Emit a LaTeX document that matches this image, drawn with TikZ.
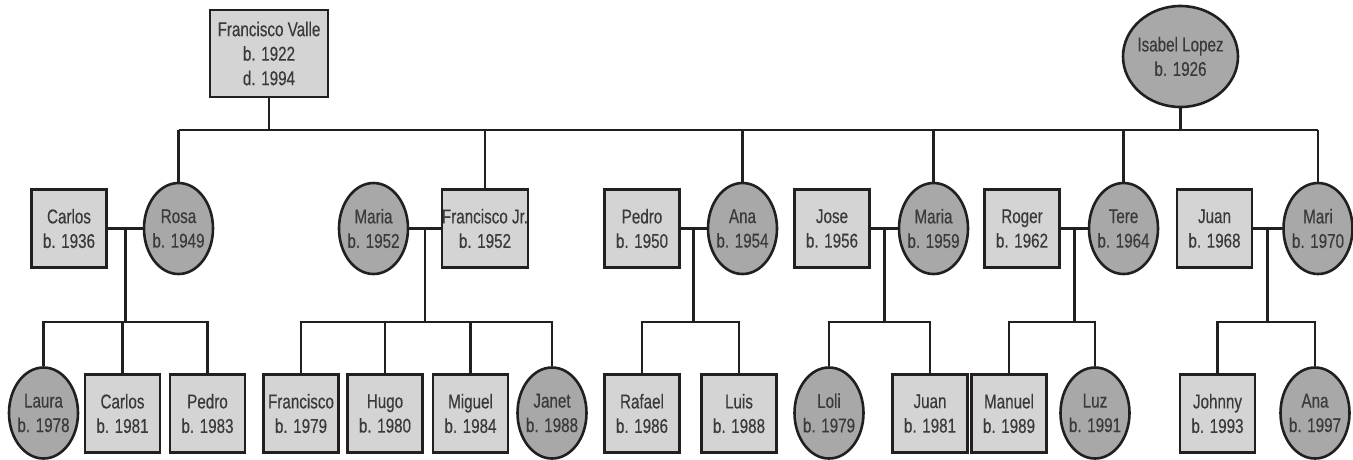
\documentclass[tikz,border=0pt]{standalone}
\usepackage{fontspec}
\setmainfont[FakeStretch=0.76,FakeBold=0.35]{Liberation Sans}
\usetikzlibrary{shapes.geometric,calc}
\definecolor{ink}{HTML}{231F20}
\definecolor{txt}{HTML}{3A3A3A}
\definecolor{malefill}{HTML}{D4D4D4}
\definecolor{femfill}{HTML}{A8A8A8}
\tikzset{
  person/.style={draw=ink, line width=2.6pt, align=center, text=txt,
    font=\fontsize{20}{24.5}\selectfont},
  male/.style={person, rectangle, fill=malefill, inner sep=0pt,
    minimum width=75pt, minimum height=78pt},
  female/.style={person, ellipse, fill=femfill, inner sep=-8pt,
    minimum width=69pt, minimum height=91pt},
  link/.style={draw=ink, line width=2.6pt}
}
\begin{document}
\begin{tikzpicture}[x=1pt, y=-1pt]
\useasboundingbox (0,0) rectangle (1353,459);

% grandparents
\node[male, minimum width=118pt, minimum height=87pt] (fv) at (269,53.5) {Francisco Valle\\b. 1922\\d. 1994};
\node[female, minimum width=115pt, minimum height=101pt] (il) at (1180.5,56.5) {Isabel Lopez\\b. 1926};
\coordinate (bar) at (0,130);

% second generation with spouses
\node[male]   (carlos) at (69,228.5)   {Carlos\\b. 1936};
\node[female] (rosa)   at (178.5,228.5){Rosa\\b. 1949};
\node[female] (maria1) at (373.5,228.5){Maria\\b. 1952};
\node[male, minimum width=86pt] (fjr) at (485,228.5) {Francisco Jr.\\b. 1952};
\node[male]   (pedro)  at (642,228.5)  {Pedro\\b. 1950};
\node[female] (ana)    at (742.5,228.5){Ana\\b. 1954};
\node[male]   (jose)   at (832,228.5)  {Jose\\b. 1956};
\node[female] (maria2) at (933.5,228.5){Maria\\b. 1959};
\node[male]   (roger)  at (1022,228.5) {Roger\\b. 1962};
\node[female] (tere)   at (1123.5,228.5){Tere\\b. 1964};
\node[male]   (juan)   at (1214.5,228.5){Juan\\b. 1968};
\node[female] (mari)   at (1318,228.5) {Mari\\b. 1970};

% third generation
\node[female] (laura)   at (43.5,413)  {Laura\\b. 1978};
\node[male]   (carlosb) at (122.5,413.5){Carlos\\b. 1981};
\node[male]   (pedrob)  at (207.5,413.5){Pedro\\b. 1983};
\node[male]   (franc)   at (301,413.5) {Francisco\\b. 1979};
\node[male]   (hugo)    at (385,413.5) {Hugo\\b. 1980};
\node[male]   (miguel)  at (470.5,413.5){Miguel\\b. 1984};
\node[female] (janet)   at (552,413)   {Janet\\b. 1988};
\node[male]   (rafael)  at (642,413.5) {Rafael\\b. 1986};
\node[male]   (luis)    at (739,413.5) {Luis\\b. 1988};
\node[female] (loli)    at (829,413)   {Loli\\b. 1979};
\node[male]   (juanb)   at (930,413.5) {Juan\\b. 1981};
\node[male]   (manuel)  at (1009,413.5){Manuel\\b. 1989};
\node[female] (luz)     at (1095,413)  {Luz\\b. 1991};
\node[male]   (johnny)  at (1217.5,413.5){Johnny\\b. 1993};
\node[female] (anab)    at (1315,413)  {Ana\\b. 1997};

% descent from the grandparents
\draw[link] (rosa.north |- bar) -- (mari.north |- bar);
\draw[link] (fv.south) -- (fv.south |- bar);
\draw[link] (il.south) -- (il.south |- bar);
\foreach \n in {rosa,fjr,ana,maria2,tere,mari}
  \draw[link] (\n.north) -- (\n.north |- bar);

% couples and their children
\coordinate (kids) at (0,322);
\foreach \a/\b/\first/\last/\mid in {
    carlos/rosa/laura/pedrob/carlosb,
    maria1/fjr/franc/janet/{hugo,miguel},
    pedro/ana/rafael/luis/{},
    jose/maria2/loli/juanb/{},
    roger/tere/manuel/luz/{},
    juan/mari/johnny/anab/{}} {
  \draw[link] (\a.east) -- (\b.west);
  \coordinate (j) at ($(\a.east)!0.5!(\b.west)$);
  \draw[link] (j) -- (j |- kids);
  \draw[link] (\first.north) -- (\first.north |- kids) -- (\last.north |- kids) -- (\last.north);
  \foreach \m in \mid
    \draw[link] (\m.north) -- (\m.north |- kids);
}
\end{tikzpicture}
\end{document}
